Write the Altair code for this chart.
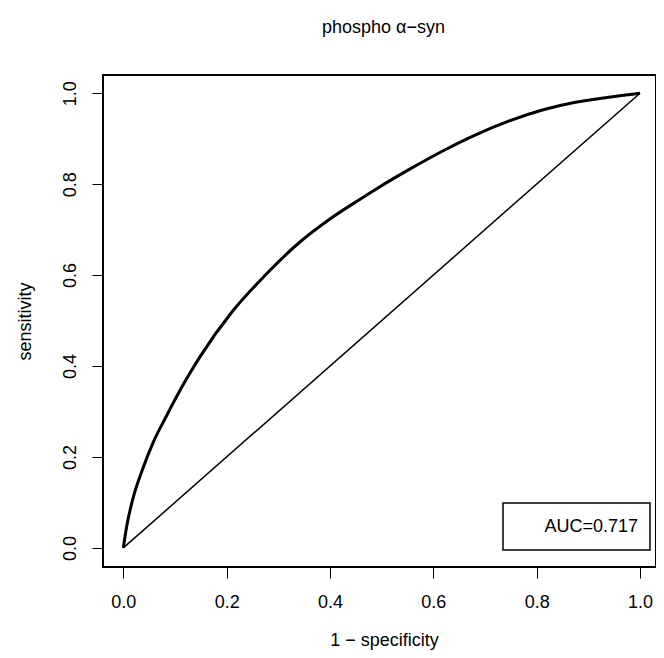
import altair as alt
import pandas as pd

# ROC curve points (1 - specificity, sensitivity)
fpr = [0.0, 0.0065, 0.019, 0.038, 0.057, 0.083, 0.121, 0.147, 0.211, 0.275,
       0.339, 0.402, 0.460, 0.492, 0.556, 0.620, 0.683, 0.747, 0.811, 0.875,
       0.939, 1.0]
tpr = [0.0, 0.047, 0.110, 0.175, 0.230, 0.289, 0.369, 0.418, 0.520, 0.600,
       0.670, 0.725, 0.768, 0.791, 0.834, 0.874, 0.909, 0.939, 0.963, 0.980,
       0.991, 1.0]

diag_x = [0.0, 1.0]
diag_y = [0.0, 1.0]

ticks = [0.0, 0.2, 0.4, 0.6, 0.8, 1.0]
title_text = "phospho \u03b1\u2212syn"
x_title = "1 \u2212 specificity"
y_title = "sensitivity"
auc_label = "AUC=0.717"

FONT = "Liberation Sans"

roc_df = pd.DataFrame({"fpr": fpr, "tpr": tpr, "i": range(len(fpr))})
diag_df = pd.DataFrame({"fpr": diag_x, "tpr": diag_y, "i": range(len(diag_x))})
lab_df = pd.DataFrame({"label": [auc_label]})

xscale = alt.Scale(domain=[-0.0393, 1.031], nice=False, zero=False)
yscale = alt.Scale(domain=[-0.042, 1.040], nice=False, zero=False)

xaxis = alt.Axis(values=ticks, format=".1f", grid=False, domain=False,
                 tickColor="black", tickSize=11, tickWidth=1,
                 labelFont=FONT, labelFontSize=18, labelColor="black",
                 labelPadding=15, title=x_title, titleFont=FONT,
                 titleFontSize=18, titleFontWeight="normal", titleColor="black",
                 titlePadding=20, titleX=281, titleAlign="center")
yaxis = alt.Axis(values=ticks, format=".1f", grid=False, domain=False,
                 tickColor="black", tickSize=11, tickWidth=1,
                 labelFont=FONT, labelFontSize=18, labelColor="black",
                 labelAngle=-90, labelAlign="center", labelBaseline="bottom",
                 labelPadding=13, title=y_title, titleFont=FONT,
                 titleFontSize=18, titleFontWeight="normal", titleColor="black",
                 titlePadding=27)

roc = alt.Chart(roc_df).mark_line(color="black", strokeWidth=3, interpolate="monotone").encode(
    x=alt.X("fpr:Q", scale=xscale, axis=xaxis),
    y=alt.Y("tpr:Q", scale=yscale, axis=yaxis),
    order="i:O",
)

diag = alt.Chart(diag_df).mark_line(color="black", strokeWidth=1.5).encode(
    x=alt.X("fpr:Q", scale=xscale),
    y=alt.Y("tpr:Q", scale=yscale),
    order="i:O",
)

box = alt.Chart(lab_df).mark_rect(fill="white", stroke="black", strokeWidth=1.5).encode(
    x=alt.value(400), x2=alt.value(547), y=alt.value(428), y2=alt.value(475)
)

txt = alt.Chart(lab_df).mark_text(font=FONT, fontSize=18, align="right",
                                   baseline="middle", color="black").encode(
    x=alt.value(535), y=alt.value(452), text="label:N"
)

chart = alt.layer(diag, roc, box, txt).properties(
    width=553, height=492,
    title=alt.TitleParams(title_text, font=FONT, fontSize=18, fontWeight="normal",
                          color="black", anchor="middle", baseline="alphabetic",
                          offset=24, dx=4),
    padding={"left": 95, "top": 67, "right": 0, "bottom": 83},
    autosize=alt.AutoSizeParams(type="none"),
    background="white",
).configure_view(stroke="black", strokeWidth=2)

chart.save("out.html", embed_options={"renderer": "svg", "actions": False})
